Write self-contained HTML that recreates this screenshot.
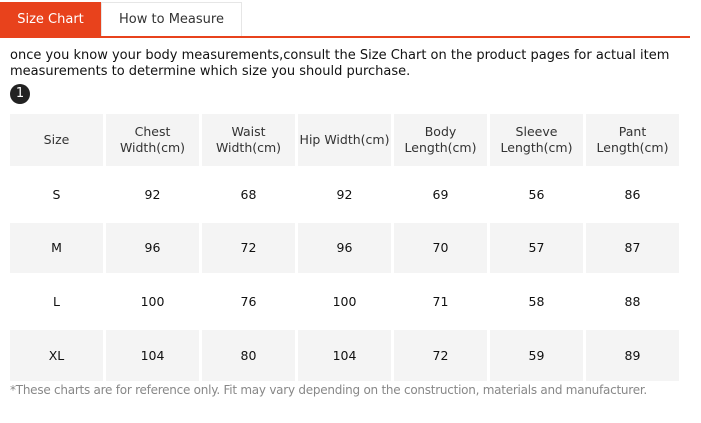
<!DOCTYPE html><html><head><style>
body{margin:0;width:701px;height:423px;background:#fff;font-family:"DejaVu Sans","Liberation Sans",sans-serif;color:#222;position:relative;overflow:hidden}
.t1{position:absolute;left:0;top:2px;width:101px;height:35px;background:#e8421c;color:#fff;font-size:13px;line-height:35px;text-align:center}
.t2{position:absolute;left:101px;top:2px;width:139px;height:33px;border:1px solid #e6e6e6;border-bottom:none;color:#333;font-size:13px;line-height:33px;text-align:center}
.line{position:absolute;left:0;top:36px;width:690px;height:2px;background:#e8421c}
.p{position:absolute;left:10px;top:48px;font-size:13px;line-height:16px;color:#111;width:690px}
.c{position:absolute;left:10px;top:84px;width:20px;height:20px;border-radius:50%;background:#222;color:#fff;font-size:13px;line-height:20px;text-align:center}
table{position:absolute;left:7px;top:111px;border-collapse:separate;border-spacing:3px;font-size:12.5px;color:#333}
td{width:93px;text-align:center;padding:0;line-height:16px}
tr.g td{background:#f4f4f4}
.h td{height:52px}
.r td{height:51px;color:#111}
.r.s td{height:50px}
.f{position:absolute;left:10px;top:383px;font-size:12px;letter-spacing:-0.25px;white-space:nowrap;color:#888}
</style></head><body>
<div class="t1">Size Chart</div><div class="t2">How to Measure</div><div class="line"></div>
<div class="p">once you know your body measurements,consult the Size Chart on the product pages for actual item measurements to determine which size you should purchase.</div>
<div class="c">1</div>
<table>
<tr class="g h"><td>Size</td><td>Chest<br>Width(cm)</td><td>Waist<br>Width(cm)</td><td>Hip Width(cm)</td><td>Body<br>Length(cm)</td><td>Sleeve<br>Length(cm)</td><td>Pant<br>Length(cm)</td></tr>
<tr class="r"><td>S</td><td>92</td><td>68</td><td>92</td><td>69</td><td>56</td><td>86</td></tr>
<tr class="r g s"><td>M</td><td>96</td><td>72</td><td>96</td><td>70</td><td>57</td><td>87</td></tr>
<tr class="r"><td>L</td><td>100</td><td>76</td><td>100</td><td>71</td><td>58</td><td>88</td></tr>
<tr class="r g"><td>XL</td><td>104</td><td>80</td><td>104</td><td>72</td><td>59</td><td>89</td></tr>
</table>
<div class="f">*These charts are for reference only. Fit may vary depending on the construction, materials and manufacturer.</div>
</body></html>
